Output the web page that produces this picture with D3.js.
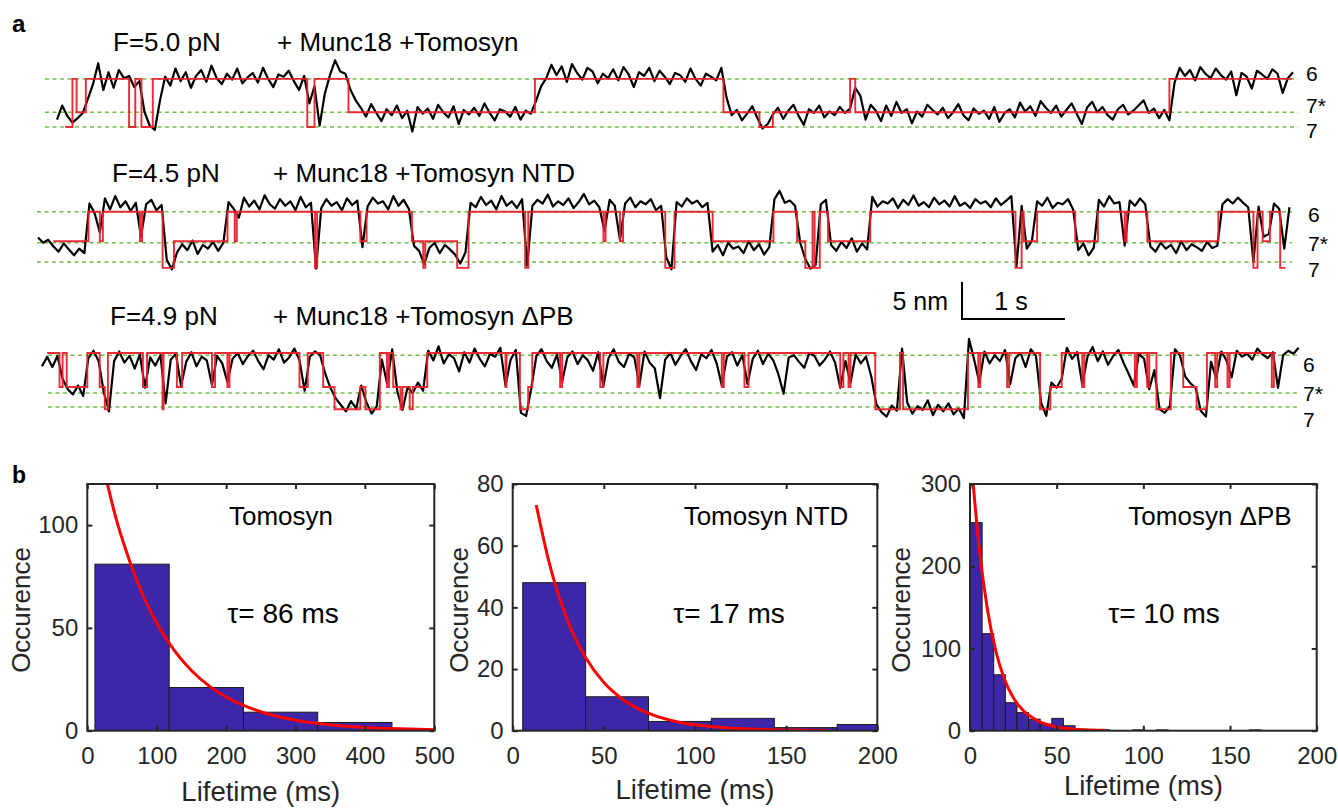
<!DOCTYPE html>
<html>
<head>
<meta charset="utf-8">
<style>
  html, body { margin: 0; padding: 0; background: #fff; }
  svg { display: block; }
  text { font-family: "Liberation Sans", Arial, sans-serif; }
</style>
</head>
<body>
<script src="https://cdnjs.cloudflare.com/ajax/libs/d3/7.8.5/d3.min.js"></script>
<script>
// ---------- panel a data ----------
const traceTitles = ["F=5.0 pN", "F=4.5 pN", "F=4.9 pN"];
const traceConditions = ["+ Munc18 +Tomosyn", "+ Munc18 +Tomosyn NTD", "+ Munc18 +Tomosyn \u0394PB"];
const stateNames = ["6", "7*", "7"];
const sampleStep = 0.05; // s between points of the black traces

// extension (nm, relative to state 7 guide line), one value per sampleStep
const trace1Black = [1.0, 2.9, 1.5, 0.6, 1.2, 1.9, 3.8, 5.8, 8.6, 5.0, 7.4, 5.3, 7.7, 6.6, 6.9, 5.4, 6.2, 2.0, 0.2, -0.4, 3.6,
  6.8, 5.6, 7.9, 6.2, 7.4, 5.3, 6.9, 7.7, 6.1, 8.3, 6.6, 5.8, 7.2, 6.4, 7.9, 5.9, 6.7, 7.3, 6.0, 8.0, 6.5, 5.4, 7.1, 6.8, 7.6, 6.2, 5.0, 6.9,
  3.2, 5.5, 0.2, 4.5, 7.0, 9.0, 7.5, 7.2, 5.0, 3.6,
  2.6, 1.4, 3.1, 1.9, 0.8, 2.4, 1.6, 2.9, 1.2, 2.2, -0.6, 2.7, 1.8, 2.5, 1.1, 3.0, 2.0, 1.3, 2.8, 0.4, 2.3, 1.7, 2.6, 1.5, 3.2, 1.9, 0.9, 2.4, 2.1, 1.4, 2.7, 1.0, 2.2, 1.8,
  3.5, 5.5, 6.6, 8.4, 7.0, 8.2, 6.1, 8.5, 7.3, 6.4, 8.0, 7.5, 5.9, 7.2, 6.6, 7.8, 6.3, 8.1, 7.1, 5.4, 7.4, 6.9, 8.0, 6.2, 7.6, 6.8, 5.8, 7.3, 7.0, 6.1, 7.9, 6.5, 5.6, 7.2, 6.8, 6.3, 8.0,
  4.0, 1.6, 2.3, 0.9, 1.8, 2.8, 1.2, -0.2, 0.4,
  1.7, 2.6, 1.1, 2.2, 3.0, 1.5, 0.3, 2.4, 1.9, 2.9, 1.3, 2.1, 1.6, 2.7, 1.9,
  2.5, 5.3, 4.2, 1.0, 3.0,
  2.2, 0.8, 2.9, 1.5, 3.4, 1.9, 2.4, 0.5, 2.1, 1.4, 3.0, 2.3, 1.7, 2.6, 1.2, 2.0, 3.1, 1.6, 0.9, 2.5, 1.8, 2.2, 1.1, 2.7, 0.7, 1.9, 2.4, 1.3, 3.3, 2.1,
  2.8, 1.5, 3.5, 2.6, 1.9, 2.9, 1.4, 2.3, 3.2, 1.8, 0.4, 2.6, 3.4, 2.0, 2.7, 1.6, 1.0, 2.4, 3.0, 1.7, 2.2, 2.9, 3.6, 1.9, 2.5, 1.2, 2.3,
  0.9,
  6.0, 8.0, 6.9, 7.7, 6.3, 8.1, 7.2, 6.6, 7.9, 7.0, 6.4, 7.5, 4.3, 7.3, 6.8, 5.2, 7.6, 7.1, 6.5, 7.8, 7.2, 4.6, 6.6, 7.4];

const trace2Black = [3.3, 2.6, 3.0, 2.1, 1.4, 2.5, 1.7, 0.9, 1.8, 1.2, 7.9, 6.6, 4.0, 8.6, 7.1, 8.9, 7.4, 8.2, 6.9, 8.0, 3.4,
  7.8, 8.4, 7.0, 7.7, 0.3, -1.0, 1.3, 2.4, 1.6, 2.9, 1.1, 2.3, 1.8, 2.7, 1.5, 2.6, 8.1, 7.2,
  6.0, 8.7, 7.5, 8.3, 7.1, 9.0, 7.8, 7.2, 8.5, 7.6, 8.2, 7.0, 8.8, 7.4, 8.0, -0.9,
  7.3, 8.5, 7.6, 8.1, 7.0, 8.6, 7.7, 8.3, 2.0, 7.5, 8.7, 7.9, 8.2, 7.1, 8.9, 7.6, 8.4, 7.2,
  2.2, 1.5, -0.3, 1.9, 2.6, 1.2, 2.3, 1.7, 1.0, -0.2, 1.3,
  8.0, 7.4, 8.8, 7.7, 8.3, 7.1, 8.9, 7.6, 8.2, 7.3, 8.5, -0.5,
  7.6, 8.4, 7.9, 9.1, 7.5, 8.2, 7.7, 8.6, 7.3, 8.1, 9.2, 7.8, 8.3, 7.4, 4.2, 8.4, 7.6, 3.0,
  7.9, 8.7, 7.4, 8.2, 7.8, 8.5, 7.0, 7.6, 0.6, -1.0, 8.1, 7.5, 8.6, 7.9, 8.3, 7.4, 8.0,
  1.4, 2.3, 0.9, 2.6, 1.8, 2.1, 1.2, 2.8, 1.6, 2.4, 1.0, 2.0,
  8.5, 9.6, 8.0, 8.3, 7.6, 2.6, 0.4, -0.9, -0.4, 7.8, 8.4,
  2.3, 1.5, 2.7, 1.9, 3.2, 1.4, 2.5, 1.7,
  8.8, 7.5, 8.2, 7.9, 8.6, 7.3, 8.4, 7.7, 9.0, 7.6, 8.1, 7.4, 8.7, 7.8, 8.3, 7.5, 8.9, 7.6, 8.0, 7.3, 8.5, 7.9, 8.2, 7.4, 8.6, 7.7, 8.3, 8.9,
  -0.6, 7.6, 1.8, 2.9, 8.2, 7.6, 8.7, 7.3, 8.0, 7.8, 8.5, 7.1,
  1.6, 2.5, 0.9, 1.9, 8.4, 7.5, 8.9, 7.9, 8.1, 2.2, 8.3, 7.6, 8.6, 7.8,
  2.1, 1.4, 2.6, 1.8, 2.3, 1.2, 2.8, 1.6, 2.4, 2.0, 1.5, 2.7, 1.9, 2.2,
  7.8, 8.5, 7.9, 8.7, 8.0, 7.4, 0.0, 7.5, 3.4, 3.8, 7.9, 7.2, 1.8, 7.4];

const trace3Black = [5.5, 6.8, 5.4, 6.9, 3.8, 2.4, 1.7, 2.9, 1.5, 6.6, 7.6, 6.2, 2.0, -0.6, 6.2, 7.5, 6.0, 6.9, 5.2, 7.1,
  2.6, 6.7, 5.6, 7.0, 0.5, 6.4, 7.2, 2.8, 6.1, 7.4, 5.5, 6.8, 6.3, 3.0, 6.9, 5.9, 3.4,
  6.5, 7.3, 5.8, 6.9, 7.6, 6.2, 5.1, 7.0, 6.4, 7.8, 6.0, 6.7, 7.9, 6.3, 2.2, 6.8, 7.5, 7.0,
  4.5, 2.6, 1.2, 0.3, -0.6, 0.8, -0.2, 2.9, 0.6, -0.9, 0.1, 6.4, 3.2, 7.8, 2.1, -0.4, 2.7, 1.9, 3.3, 2.2,
  7.6, 6.3, 8.2, 5.9, 7.1, 6.6, 4.8, 7.4, 6.0, 7.9, 6.5, 5.5, 7.2, 6.8, 8.0, 2.9, 6.4, 7.7, -0.8, -1.2, 2.5,
  6.9, 7.8, 6.2, 5.3, 7.1, 3.4, 6.7, 7.5, 5.8, 7.0, 6.3, 4.9, 7.4, 2.8, 6.6, 7.8, 6.1, 5.4, 7.2, 6.7, 3.0,
  7.5, 6.0, 5.2, 1.2, 6.4, 7.3, 5.7, 6.9, 7.8, 6.2, 5.0, 7.1, 6.6, 7.7, 5.9, 2.9, 6.8, 7.4, 5.6, 7.0, 3.1,
  6.5, 7.6, 5.8, 7.2, 6.3, 4.4, 1.8, 6.7, 7.0, 6.1, 5.3, 7.3, 6.9, 5.6, 6.4, 7.5, 6.0, 2.6, 6.2, 3.3,
  7.1, 5.9, 6.8, 4.2, 0.4, -0.7, -1.3, 0.2, -0.5, 7.9,
  0.6, -0.9, 0.1, -0.4, 0.9, -1.1, 0.3, -0.6, 0.5, -1.0, -0.2, -1.5,
  9.2, 6.4, 3.3, 7.5, 5.9, 7.0, 6.2, 7.7, 3.1, 6.6, 7.3, 5.4, 7.8, 6.9, 0.6, -1.2, 3.3, 2.6, 3.8,
  8.0, 6.5, 7.4, 3.0, 6.8, 8.1, 6.2, 7.5, 5.7, 6.9, 7.7, 6.0, 4.5, 2.9, 7.2, 6.5, 2.4, 5.0,
  -0.3, -0.8, 0.1, 7.8, 6.9, 4.1, 3.2, 2.6, -0.5, -1.3, 6.1, 3.9, 7.5, 6.3, 4.0,
  7.6, 6.8, 7.2, 6.4, 7.9, 7.1, 6.6, 7.4, 2.6, 7.0, 7.6, 7.2, 8.0];

// idealized state sequence: [start time (s), state]
const trace1Steps = [[0.08, "7"], [0.15, "6"], [0.19, "7*"], [0.28, "6"], [0.70, "7"], [0.76, "6"], [0.82, "7"], [0.93, "6"],
  [2.43, "7"], [2.50, "6"], [2.83, "7*"], [4.64, "6"], [6.47, "7*"], [6.82, "7"], [6.95, "7*"], [7.70, "6"], [7.75, "7*"], [10.80, "6"]];
const trace1End = 11.99;
const trace2Steps = [[0.15, "7*"], [0.49, "6"], [0.60, "7*"], [0.63, "6"], [0.99, "7*"], [1.01, "6"], [1.21, "7"], [1.32, "7*"],
  [1.84, "6"], [1.91, "7*"], [1.93, "6"], [2.69, "7"], [2.71, "6"], [3.13, "7*"], [3.19, "6"], [3.63, "7*"], [3.74, "7"], [3.76, "7*"],
  [4.07, "7"], [4.18, "6"], [4.73, "7"], [4.76, "6"], [5.49, "7*"], [5.51, "6"], [5.65, "7*"], [5.68, "6"], [6.09, "7"], [6.18, "6"],
  [6.55, "7*"], [7.14, "6"], [7.37, "7*"], [7.45, "7"], [7.52, "6"], [7.54, "7"], [7.59, "6"], [7.67, "7*"], [8.08, "6"], [9.49, "7"],
  [9.55, "6"], [9.57, "7*"], [9.70, "6"], [10.07, "7*"], [10.29, "6"], [10.55, "7*"], [10.57, "6"], [10.77, "7*"], [11.46, "6"],
  [11.80, "7"], [11.84, "6"], [11.89, "7*"], [11.96, "6"], [12.06, "7"]];
const trace2End = 12.11;
const trace3Steps = [[0.05, "6"], [0.17, "7*"], [0.20, "6"], [0.24, "7*"], [0.44, "6"], [0.56, "7*"], [0.61, "7"], [0.64, "6"],
  [0.98, "7*"], [1.02, "6"], [1.17, "7"], [1.18, "6"], [1.31, "7*"], [1.36, "6"], [1.65, "7*"], [1.68, "6"], [1.80, "7*"], [1.82, "6"],
  [2.50, "7*"], [2.58, "6"], [2.73, "7*"], [2.84, "7"], [3.09, "7*"], [3.14, "7"], [3.28, "6"], [3.35, "7*"], [3.37, "6"], [3.41, "7*"],
  [3.48, "7"], [3.50, "7*"], [3.57, "7"], [3.60, "7*"], [3.74, "6"], [4.50, "7*"], [4.51, "6"], [4.64, "7"], [4.72, "7*"], [4.76, "6"],
  [5.03, "7*"], [5.05, "6"], [5.42, "7*"], [5.45, "6"], [5.78, "7*"], [5.80, "6"], [6.60, "7*"], [6.62, "6"], [6.82, "7*"], [6.86, "6"],
  [7.75, "7*"], [7.78, "6"], [7.83, "7*"], [7.85, "6"], [8.09, "7"], [8.33, "6"], [8.36, "7"], [8.99, "6"], [9.09, "7*"], [9.11, "6"],
  [9.37, "7*"], [9.39, "6"], [9.69, "7"], [9.79, "7*"], [9.90, "6"], [10.10, "7*"], [10.12, "6"], [10.61, "7*"], [10.63, "6"],
  [10.73, "7*"], [10.75, "6"], [10.82, "7"], [10.96, "6"], [11.08, "7*"], [11.21, "7"], [11.31, "6"], [11.39, "7*"], [11.41, "6"],
  [11.51, "7*"], [11.53, "6"], [11.94, "7*"], [11.96, "6"]];
const trace3End = 11.98;

// state extensions (nm) of the red idealized trace and of the green guide lines
const trace1Levels = {"6": 6.5, "7*": 2.0, "7": 0};
const trace2Levels = {"6": 6.8, "7*": 2.8, "7": -0.8};
const trace3Levels = {"6": 7.3, "7*": 2.7, "7": -0.3};
const trace1Guides = [6.5, 2.0, 0];
const trace2Guides = [6.8, 2.6, 0];
const trace3Guides = [7.0, 1.9, 0];

// ---------- panel b data ----------
const histNames = ["Tomosyn", "Tomosyn NTD", "Tomosyn \u0394PB"];
const tauLabels = ["\u03c4= 86 ms", "\u03c4= 17 ms", "\u03c4= 10 ms"];
const tomosynEdges = [11, 118, 225, 332, 439];
const tomosynCounts = [81, 21, 9, 4];
const ntdEdges = [5.5, 40, 74.5, 109, 143.5, 178, 212.5];
const ntdCounts = [48, 11, 3, 4, 1, 2];
const dpbEdges = [0.3, 7.0, 13.7, 20.4, 27.1, 33.8, 40.5, 47.2, 53.9, 60.6, 67.3, 74.0, 80.7, 87.4, 94.1, 100.8,
  107.5, 114.2, 120.9, 127.6, 134.3, 141.0, 147.7, 154.4, 161.1, 167.8, 174.5, 181.2, 187.9, 194.6, 201.3];
const dpbCounts = [253, 118, 68, 34, 22, 14, 8, 15, 6, 2, 1, 1, 0, 0, 1, 0, 1, 0, 0, 0, 0, 0, 0, 0, 1, 0, 0, 0, 0, 0];
// exponential fit curves
const tomosynFitT = [29, 40, 60, 80, 100, 125, 150, 175, 200, 250, 300, 350, 400, 450, 500];
const tomosynFitY = [120, 105, 83.5, 66, 52.4, 39.2, 29.3, 21.9, 16.4, 9.2, 5.1, 2.9, 1.6, 0.9, 0.5];
const ntdFitT = [12.9, 20, 30, 40, 50, 60, 75, 90, 110, 130, 150, 173];
const ntdFitY = [73.2, 54.5, 35.9, 23.7, 15.6, 10.3, 5.5, 2.9, 1.3, 0.56, 0.24, 0.1];
const dpbFitT = [1.9, 5, 10, 15, 20, 25, 30, 40, 50, 60, 70, 78];
const dpbFitY = [299, 228, 148, 96, 62, 40, 26, 11, 4.6, 1.9, 0.8, 0.4];
const xDomains = [[0, 500], [0, 200], [0, 200]];
const yDomains = [[0, 120], [0, 80], [0, 300]];
const xTickValues = [[0, 100, 200, 300, 400, 500], [0, 50, 100, 150, 200], [0, 50, 100, 150, 200]];
const yTickValues = [[0, 50, 100], [0, 20, 40, 60, 80], [0, 100, 200, 300]];

// ---------- drawing ----------
const W = 1338, H = 809;
const svg = d3.select("body").append("svg").attr("width", W).attr("height", H);
const pxPerSecond = 103, pxPerNm = 7.4;

const traces = [
  {black: trace1Black, steps: trace1Steps, end: trace1End, levels: trace1Levels, guides: trace1Guides,
   x0: 57, y7: 127, guideX: [45, 1298], titleY: 51, titleX: 113, condX: 277, labelX: 1306, labelY: [81, 113, 138]},
  {black: trace2Black, steps: trace2Steps, end: trace2End, levels: trace2Levels, guides: trace2Guides,
   x0: 38, y7: 262, guideX: [37, 1292], titleY: 182, titleX: 112, condX: 273, labelX: 1308, labelY: [222, 251, 277]},
  {black: trace3Black, steps: trace3Steps, end: trace3End, levels: trace3Levels, guides: trace3Guides,
   x0: 42, y7: 407, guideX: [48, 1298], titleY: 325, titleX: 110, condX: 273, labelX: 1303, labelY: [372, 401, 427]}
];

svg.append("text").attr("x", 12).attr("y", 32).attr("font-size", 24).attr("font-weight", "bold").text("a");
svg.append("text").attr("x", 12).attr("y", 483).attr("font-size", 23).attr("font-weight", "bold").text("b");

traces.forEach((tr, k) => {
  const x = d3.scaleLinear().domain([0, 12.5]).range([tr.x0, tr.x0 + 12.5 * pxPerSecond]);
  const y = d3.scaleLinear().domain([0, 10]).range([tr.y7, tr.y7 - 10 * pxPerNm]);
  const g = svg.append("g");

  g.selectAll("line.guide").data(tr.guides).join("line")
    .attr("x1", tr.guideX[0]).attr("x2", tr.guideX[1])
    .attr("y1", d => y(d)).attr("y2", d => y(d))
    .attr("stroke", "#72bf44").attr("stroke-width", 1.5).attr("stroke-dasharray", "4,3.5");

  const blackLine = d3.line().x((d, i) => x(i * sampleStep)).y(d => y(d));
  g.append("path").attr("d", blackLine(tr.black))
    .attr("fill", "none").attr("stroke", "#000").attr("stroke-width", 2.2).attr("stroke-linejoin", "round");

  const stepPts = tr.steps.map(s => [s[0], tr.levels[s[1]]]);
  stepPts.push([tr.end, tr.levels[tr.steps[tr.steps.length - 1][1]]]);
  const redLine = d3.line().x(d => x(d[0])).y(d => y(d[1])).curve(d3.curveStepAfter);
  g.append("path").attr("d", redLine(stepPts))
    .attr("fill", "none").attr("stroke", "#e8202a").attr("stroke-width", 1.9).attr("stroke-opacity", 0.95);

  g.append("text").attr("x", tr.titleX).attr("y", tr.titleY).attr("font-size", 26).text(traceTitles[k]);
  g.append("text").attr("x", tr.condX).attr("y", tr.titleY).attr("font-size", 26).text(traceConditions[k]);

  g.selectAll("text.state").data(stateNames).join("text")
    .attr("x", tr.labelX).attr("y", (d, i) => tr.labelY[i]).attr("font-size", 21).text(d => d);

  if (k === 2) {
    // scale bar: 5 nm by 1 s
    const bx = 962, by = 319;
    const barW = x(1) - x(0), barH = y(0) - y(5);
    svg.append("path").attr("d", `M${bx},${by - barH}V${by}H${bx + barW}`)
      .attr("fill", "none").attr("stroke", "#000").attr("stroke-width", 2);
    svg.append("text").attr("x", 948).attr("y", 310).attr("text-anchor", "end").attr("font-size", 25).text("5 nm");
    svg.append("text").attr("x", 1011).attr("y", 310).attr("text-anchor", "middle").attr("font-size", 25).text("1 s");
  }
});

// histograms
const hists = [
  {edges: tomosynEdges, counts: tomosynCounts, fitT: tomosynFitT, fitY: tomosynFitY},
  {edges: ntdEdges, counts: ntdCounts, fitT: ntdFitT, fitY: ntdFitY},
  {edges: dpbEdges, counts: dpbCounts, fitT: dpbFitT, fitY: dpbFitY}
];
const histLayout = [
  {left: 87.3, right: 434.3, xLabelY: 801, yLabelX: 30, nameX: 281, tauX: 283},
  {left: 512.7, right: 877.3, xLabelY: 799, yLabelX: 468, nameX: 766, tauX: 729},
  {left: 970, right: 1316.7, xLabelY: 795, yLabelX: 910, nameX: 1210, tauX: 1164}
];
const plotTop = 484, plotBottom = 730.7;
const axisColor = "#262626";

hists.forEach((h, k) => {
  const L = histLayout[k];
  const x = d3.scaleLinear().domain(xDomains[k]).range([L.left, L.right]);
  const y = d3.scaleLinear().domain(yDomains[k]).range([plotBottom, plotTop]);
  const g = svg.append("g");

  const clipId = "clip" + k;
  g.append("clipPath").attr("id", clipId).append("rect")
    .attr("x", L.left).attr("y", plotTop).attr("width", L.right - L.left).attr("height", plotBottom - plotTop);

  const bins = h.counts.map((c, i) => ({x0: h.edges[i], x1: h.edges[i + 1], c})).filter(b => b.c > 0);
  g.append("g").attr("clip-path", `url(#${clipId})`)
    .selectAll("rect").data(bins).join("rect")
    .attr("x", b => x(b.x0)).attr("width", b => x(b.x1) - x(b.x0))
    .attr("y", b => y(b.c)).attr("height", b => plotBottom - y(b.c))
    .attr("fill", "#3e26a8").attr("stroke", "#1a1a1a").attr("stroke-width", 1);

  const fit = d3.line().x(d => x(d[0])).y(d => y(d[1])).curve(d3.curveMonotoneX);
  g.append("path").attr("clip-path", `url(#${clipId})`)
    .attr("d", fit(h.fitT.map((t, i) => [t, h.fitY[i]])))
    .attr("fill", "none").attr("stroke", "#ff0000").attr("stroke-width", 3);

  const styleAxis = sel => {
    sel.select(".domain").remove();
    sel.selectAll(".tick line").attr("stroke", axisColor).attr("stroke-width", 2);
    sel.selectAll(".tick text").attr("fill", axisColor).attr("font-size", 24)
      .attr("font-family", "'Liberation Sans', Arial, sans-serif");
  };
  g.append("g").attr("transform", `translate(0,${plotBottom})`)
    .call(d3.axisBottom(x).tickValues(xTickValues[k]).tickSize(-5).tickPadding(16).tickFormat(d3.format("d")))
    .call(styleAxis);
  g.append("g").attr("transform", `translate(0,${plotTop})`)
    .call(d3.axisTop(x).tickValues(xTickValues[k]).tickSize(-5).tickFormat(""))
    .call(styleAxis);
  g.append("g").attr("transform", `translate(${L.left},0)`)
    .call(d3.axisLeft(y).tickValues(yTickValues[k]).tickSize(-5).tickPadding(9).tickFormat(d3.format("d")))
    .call(styleAxis);
  g.append("g").attr("transform", `translate(${L.right},0)`)
    .call(d3.axisLeft(y).tickValues(yTickValues[k]).tickSize(5).tickFormat(""))
    .call(styleAxis);

  g.append("rect").attr("x", L.left).attr("y", plotTop).attr("width", L.right - L.left).attr("height", plotBottom - plotTop)
    .attr("fill", "none").attr("stroke", axisColor).attr("stroke-width", 2);

  g.append("text").attr("x", (L.left + L.right) / 2).attr("y", L.xLabelY).attr("text-anchor", "middle")
    .attr("font-size", 27.5).attr("fill", axisColor).text("Lifetime (ms)");
  g.append("text").attr("transform", `translate(${L.yLabelX},610) rotate(-90)`).attr("text-anchor", "middle")
    .attr("font-size", 26).attr("fill", axisColor).text("Occurence");

  g.append("text").attr("x", L.nameX).attr("y", 525).attr("text-anchor", "middle")
    .attr("font-size", 26).text(histNames[k]);
  g.append("text").attr("x", L.tauX).attr("y", 623).attr("text-anchor", "middle")
    .attr("font-size", 28).attr("font-family", "'Open Sans', sans-serif").text(tauLabels[k]);
});
</script>
</body>
</html>
